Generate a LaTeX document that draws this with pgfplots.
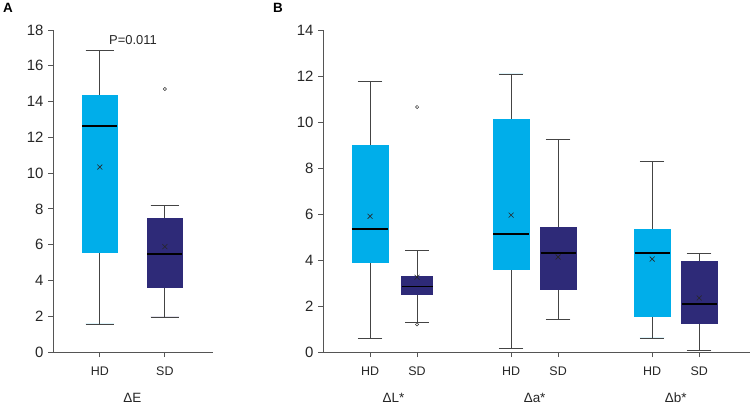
\documentclass[border=0pt]{standalone}
\usepackage{pgfplots}
\pgfplotsset{compat=1.18}
\usepgfplotslibrary{statistics}
\usepackage{fontspec}
\setmainfont{Liberation Sans}
\definecolor{cyanA}{HTML}{00AEEA}
\definecolor{navyA}{HTML}{2E2A78}
\definecolor{axgray}{HTML}{555555}
\definecolor{whisk}{HTML}{444444}
\pgfplotsset{
  panel/.style={
    scale only axis,
    anchor=south west,
    axis x line*=bottom, axis y line*=left,
    axis line style={-, draw=axgray, line width=0.8pt},
    tick align=outside,
    major tick length=5bp,
    tick style={draw=axgray, line width=0.8pt},
    ymin=0,
    xtick={1,2,4,5,7,8},
    xticklabels={HD,SD,HD,SD,HD,SD},
    x tick label style={font=\fontsize{12.5}{13}\selectfont, yshift=-6bp, text=black!85},
    y tick label style={font=\fontsize{15}{16}\selectfont, text=black!85, xshift=-1bp},
    /pgf/number format/assume math mode=true,
    clip=false,
    boxplot/draw direction=y,
  },
  bx/.style n args={8}{
    boxplot prepared={draw position=#1, lower whisker=#2, lower quartile=#3, median=#4,
      upper quartile=#5, upper whisker=#6, box extend=#7, whisker extend=#8},
  },
  hd/.style={fill=cyanA, draw=cyanA,
    boxplot/every whisker/.style={draw=whisk, line width=0.8pt},
    boxplot/every median/.style={draw=black, line width=1.6pt}},
  sd/.style={fill=navyA, draw=navyA,
    boxplot/every whisker/.style={draw=whisk, line width=0.8pt},
    boxplot/every median/.style={draw=black, line width=1.6pt}},
  meanmk/.style={only marks, mark=x, mark size=3.5bp, draw=black!85, line width=0.6pt},
  outmk/.style={only marks, mark=o, mark size=1.6bp, draw=black!80, line width=0.5pt},
}
\begin{document}
\begin{tikzpicture}
\useasboundingbox (0bp,0bp) rectangle (751bp,-405bp);
\node[anchor=north west, inner sep=0pt, font=\bfseries\fontsize{13.5}{14}\selectfont] at (3bp,-3bp) {A};
\node[anchor=north west, inner sep=0pt, font=\bfseries\fontsize{13.5}{14}\selectfont] at (273bp,-3bp) {B};
% Panel A
\begin{axis}[panel, at={(53bp,-352bp)}, width=160bp, height=322bp,
  xmin=0.28, xmax=2.74, ymax=18, ytick={0,2,...,18}]
\addplot[bx={1}{1.57}{5.59}{12.63}{14.37}{16.88}{0.54}{0.44}, hd] coordinates {};
\addplot[bx={2}{1.96}{3.60}{5.48}{7.49}{8.18}{0.54}{0.44}, sd] coordinates {};
\addplot[meanmk] coordinates {(1,10.34) (2,5.89)};
\addplot[outmk] coordinates {(2,14.7)};
\node[font=\fontsize{13}{14}\selectfont, text=black!85] at (axis cs:1.51,17.44) {P=0.011};
\node[font=\fontsize{13.5}{14}\selectfont, text=black!85] at (axis cs:1.5,0) [yshift=-46bp] {ΔE};
\end{axis}
% Panel B
\begin{axis}[panel, at={(323bp,-352bp)}, width=427bp, height=322bp,
  xmin=0, xmax=9.08, ymax=14, ytick={0,2,...,14}]
\addplot[bx={1}{0.60}{3.90}{5.35}{9.00}{11.78}{0.77}{0.52}, hd] coordinates {};
\addplot[bx={2}{1.30}{2.50}{2.85}{3.30}{4.40}{0.66}{0.50}, sd] coordinates {};
\addplot[bx={4}{0.17}{3.60}{5.13}{10.13}{12.09}{0.75}{0.52}, hd] coordinates {};
\addplot[bx={5}{1.43}{2.74}{4.30}{5.43}{9.26}{0.75}{0.52}, sd] coordinates {};
\addplot[bx={7}{0.61}{1.57}{4.30}{5.35}{8.30}{0.75}{0.52}, hd] coordinates {};
\addplot[bx={8}{0.05}{1.26}{2.09}{3.93}{4.30}{0.75}{0.52}, sd] coordinates {};
\addplot[meanmk] coordinates {(1,5.9) (2,3.25) (4,5.95) (5,4.13) (7,4.04) (8,2.35)};
\addplot[outmk] coordinates {(2,10.65) (2,1.2)};
\node[font=\fontsize{13.5}{14}\selectfont, text=black!85] at (axis cs:1.5,0) [yshift=-46bp] {ΔL*};
\node[font=\fontsize{13.5}{14}\selectfont, text=black!85] at (axis cs:4.5,0) [yshift=-46bp] {Δa*};
\node[font=\fontsize{13.5}{14}\selectfont, text=black!85] at (axis cs:7.5,0) [yshift=-46bp] {Δb*};
\end{axis}
\end{tikzpicture}
\end{document}
